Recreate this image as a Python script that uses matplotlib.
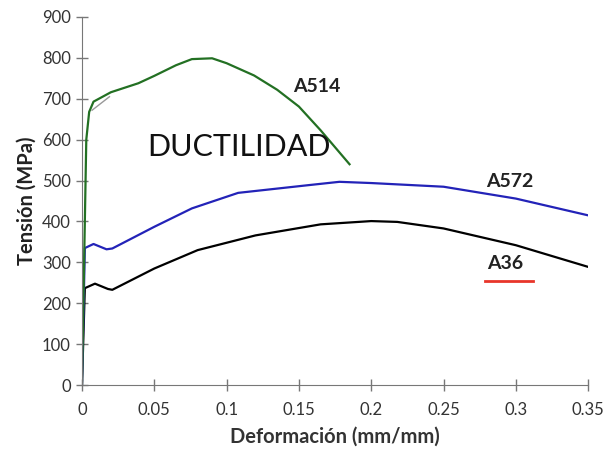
import matplotlib.pyplot as plt

# ================= data =================
a514_x = [0, 0.003, 0.005, 0.008, 0.02, 0.039, 0.05, 0.065, 0.076, 0.09, 0.1, 0.119, 0.135, 0.15, 0.165, 0.185]
a514_y = [0, 600, 668, 693, 716, 738, 756, 782, 797, 799, 787, 757, 722, 681, 623, 540]

a572_x = [0, 0.002, 0.008, 0.017, 0.021, 0.05, 0.076, 0.108, 0.157, 0.178, 0.2, 0.25, 0.3, 0.35]
a572_y = [0, 335, 345, 332, 334, 387, 432, 470, 489, 497, 494, 485, 456, 415]

a36_x = [0, 0.002, 0.009, 0.018, 0.021, 0.05, 0.08, 0.12, 0.165, 0.2, 0.218, 0.25, 0.3, 0.35]
a36_y = [0, 237, 248, 235, 233, 285, 330, 366, 393, 401, 399, 383, 342, 289]

xticks = [0, 0.05, 0.1, 0.15, 0.2, 0.25, 0.3, 0.35]
xticklabels = ['0', '0.05', '0.1', '0.15', '0.2', '0.25', '0.3', '0.35']
yticks = list(range(0, 1000, 100))

plt.rcParams['font.family'] = ['Lato', 'DejaVu Sans']

fig = plt.figure(figsize=(6.07, 4.59), dpi=100)
ax = fig.add_axes([0.135, 0.161, 0.834, 0.802])

ax.plot(a36_x, a36_y, color='black', lw=1.6)
ax.plot(a572_x, a572_y, color='#2323b8', lw=1.6)
ax.plot(a514_x, a514_y, color='#237023', lw=1.6)
# small grey mark near the yield point
ax.plot([0.007, 0.019], [672, 705], color='#999999', lw=1)

ax.text(0.1625, 729, 'A514', fontsize=14, fontweight='bold', ha='center', va='center', color='#222222')
ax.text(0.296, 497, 'A572', fontsize=14, fontweight='bold', ha='center', va='center', color='#222222')
ax.text(0.2925, 297, 'A36', fontsize=14, fontweight='bold', ha='center', va='center', color='#222222')
ax.plot([0.279, 0.312], [254, 254], color='#e8352a', lw=2)
ax.text(0.045, 582, 'DUCTILIDAD', fontsize=22, ha='left', va='center', color='#111111')

ax.set_xlim(0, 0.35)
ax.set_ylim(0, 900)
ax.set_xticks(xticks)
ax.set_xticklabels(xticklabels)
ax.set_yticks(yticks)

for s in ['top', 'right']:
    ax.spines[s].set_visible(False)
for s in ['left', 'bottom']:
    ax.spines[s].set_color('#777777')
ax.tick_params(direction='inout', length=9, width=1, colors='#777777', labelsize=12, labelcolor='#333333')
ax.tick_params(axis='x', pad=8)

ax.set_xlabel('Deformación (mm/mm)', fontsize=14.5, fontweight='bold', color='#333333', labelpad=6)
ax.set_ylabel('Tensión (MPa)', fontsize=14.5, fontweight='bold', color='#222222', labelpad=4)

fig.savefig('out.png', dpi=100)
